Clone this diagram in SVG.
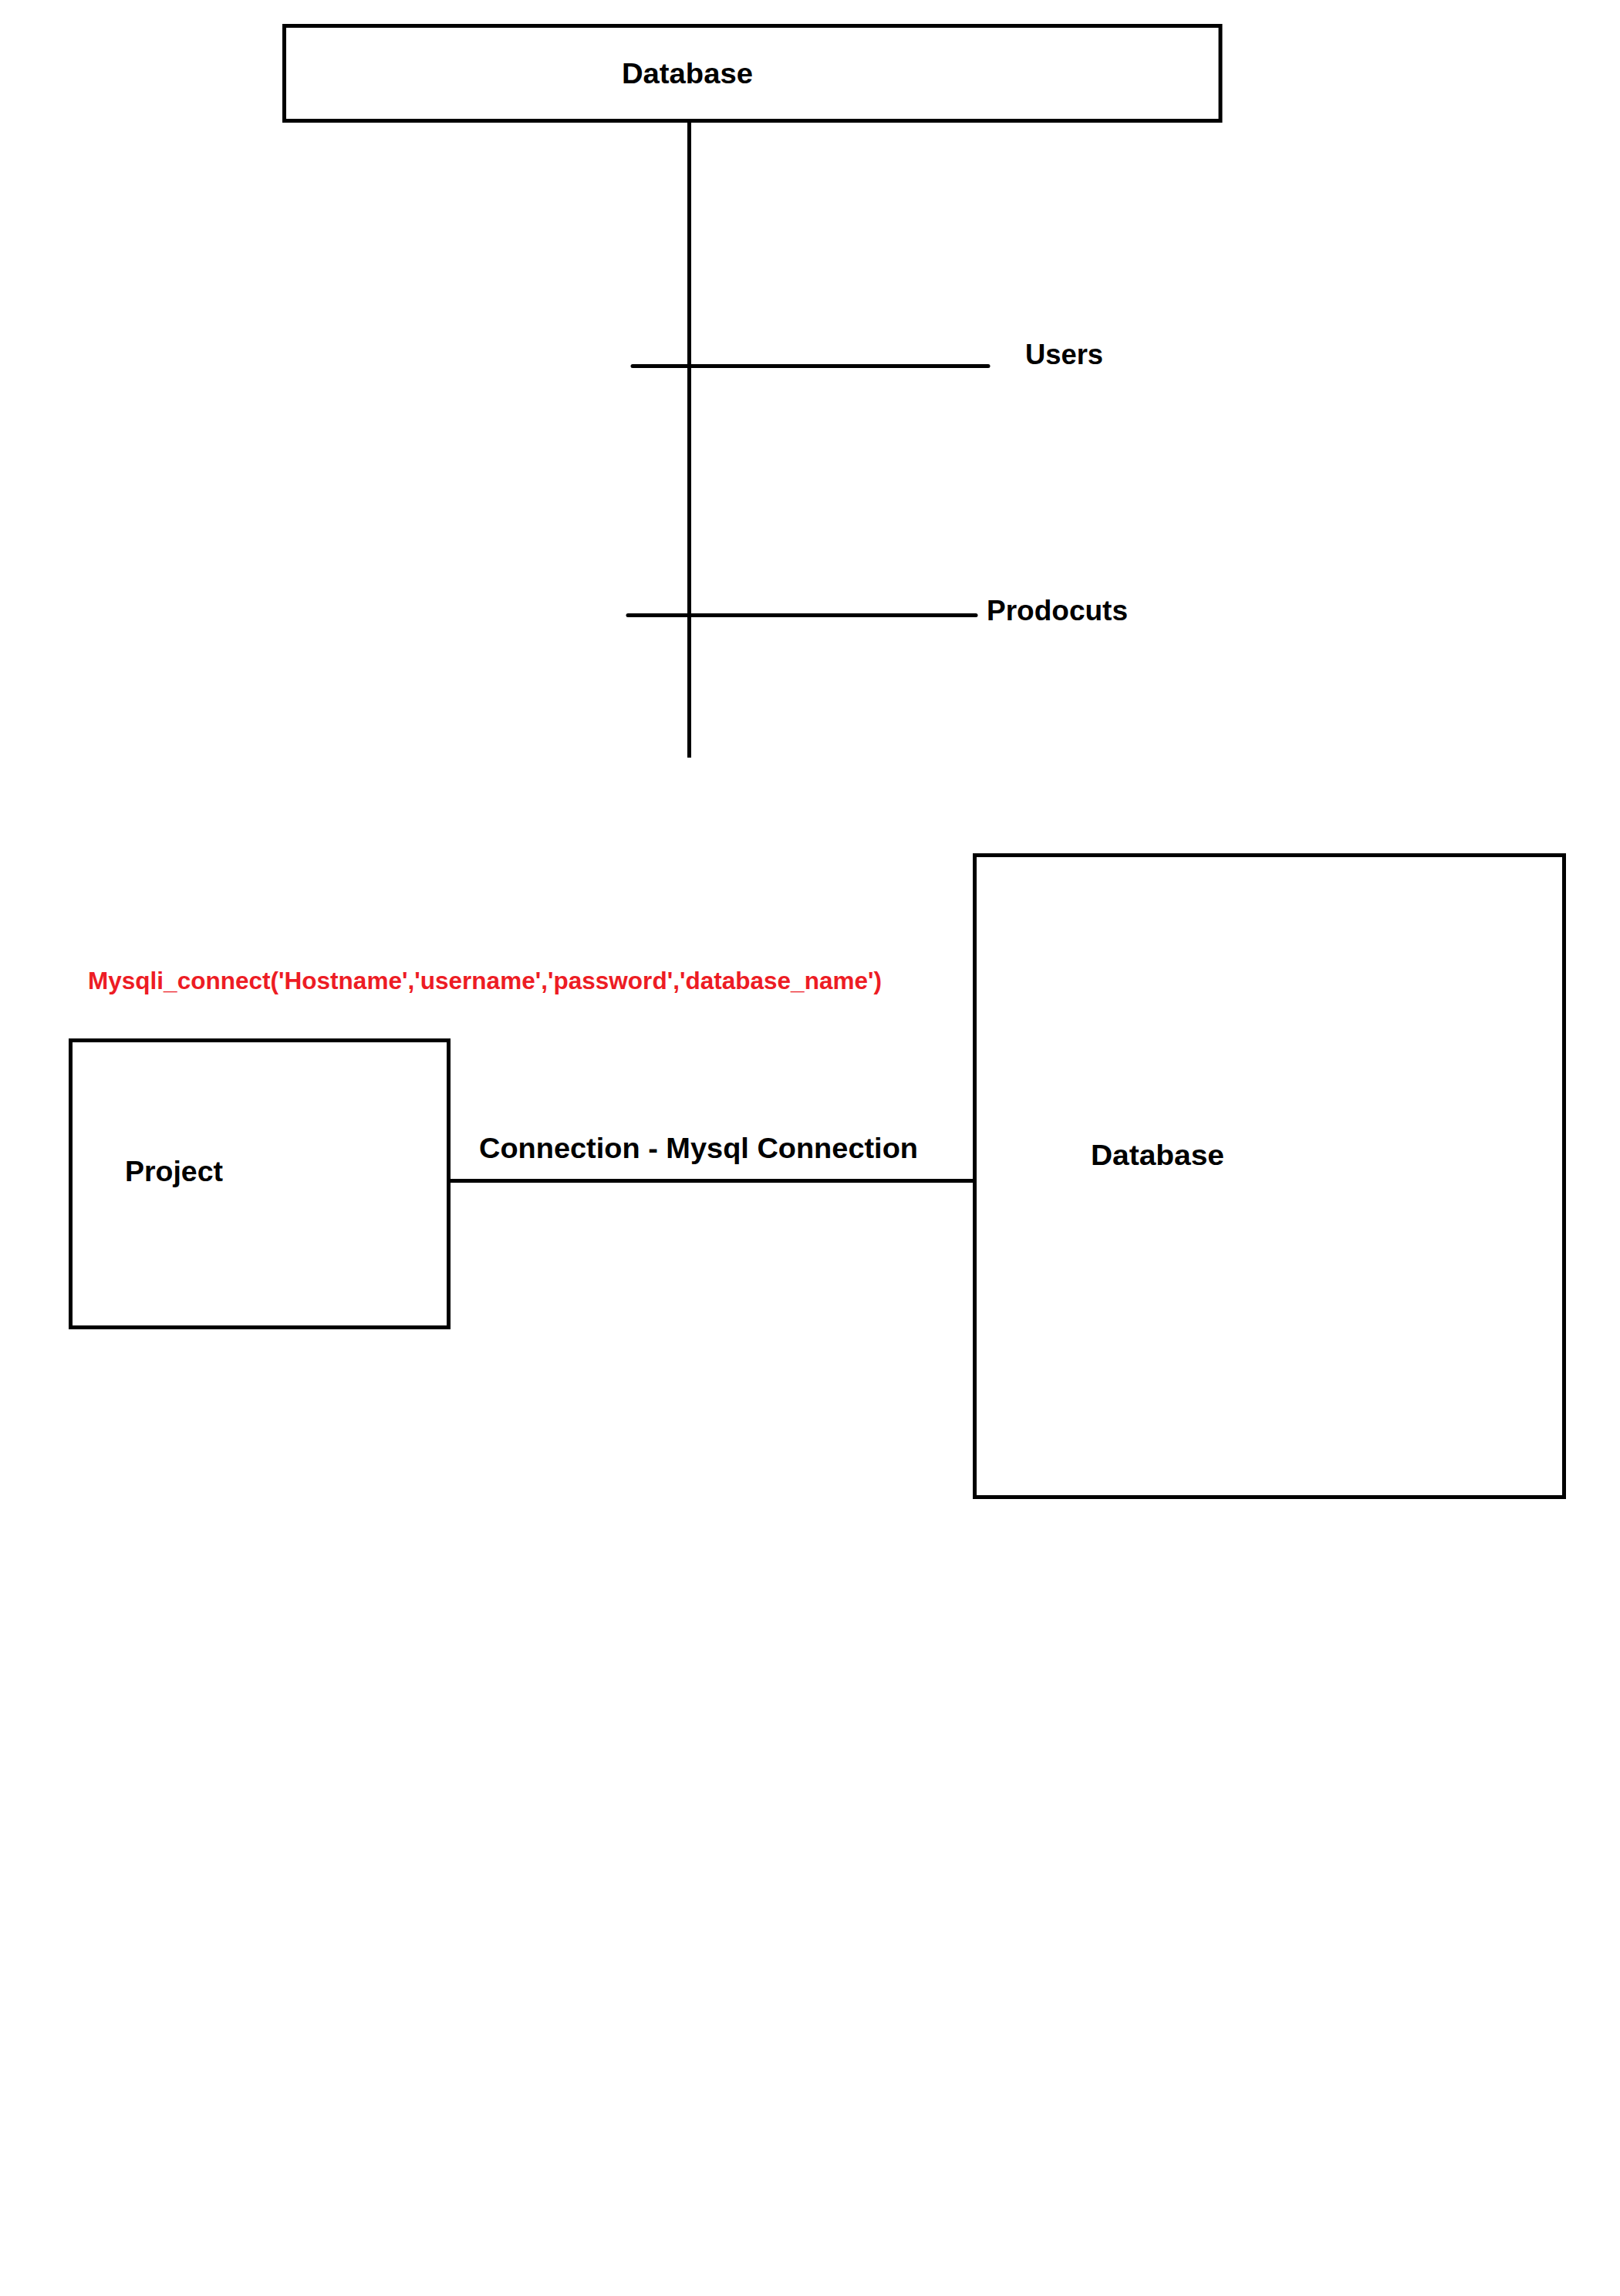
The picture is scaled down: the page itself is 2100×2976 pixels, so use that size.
<svg xmlns="http://www.w3.org/2000/svg" width="2100" height="2976" viewBox="0 0 2100 2976">
<style>
.box{fill:#ffffff;stroke:#000000;stroke-width:5}
.ln{stroke:#000000;stroke-width:5;fill:none}
.t{font-family:"Liberation Sans",Arial,sans-serif;font-weight:bold;font-size:37px;fill:#000000}
.r{font-family:"Liberation Sans",Arial,sans-serif;font-weight:bold;font-size:32px;fill:#ED1C24}
</style>
<rect x="0" y="0" width="2100" height="2976" fill="#ffffff"/>
<g id="connectors">
<line class="ln" x1="893.5" y1="156.5" x2="893.5" y2="982"/>
<line class="ln" x1="820" y1="474.5" x2="1281" y2="474.5" stroke-linecap="round"/>
<line class="ln" x1="814" y1="797.5" x2="1265" y2="797.5" stroke-linecap="round"/>
<line class="ln" x1="581.5" y1="1530.5" x2="1263.5" y2="1530.5"/>
<text class="t" x="621" y="1501" textLength="569" lengthAdjust="spacingAndGlyphs">Connection - Mysql Connection</text>
</g>
<g id="node-database-top">
<rect class="box" x="368.5" y="33.5" width="1213.5" height="123"/>
<text class="t" x="806" y="108" textLength="170" lengthAdjust="spacingAndGlyphs">Database</text>
</g>
<g id="node-users">
<text class="t" x="1329" y="472" textLength="101" lengthAdjust="spacingAndGlyphs">Users</text>
</g>
<g id="node-products">
<text class="t" x="1279" y="804" textLength="183" lengthAdjust="spacingAndGlyphs">Prodocuts</text>
</g>
<g id="note-mysqli">
<text class="r" x="114" y="1282" textLength="1029" lengthAdjust="spacingAndGlyphs">Mysqli_connect('Hostname','username','password','database_name')</text>
</g>
<g id="node-project">
<rect class="box" x="91.5" y="1348.5" width="490" height="372"/>
<text class="t" x="162" y="1531" textLength="127" lengthAdjust="spacingAndGlyphs">Project</text>
</g>
<g id="node-database-bottom">
<rect class="box" x="1263.5" y="1108.5" width="764" height="832"/>
<text class="t" x="1414" y="1510" textLength="173" lengthAdjust="spacingAndGlyphs">Database</text>
</g>
</svg>
